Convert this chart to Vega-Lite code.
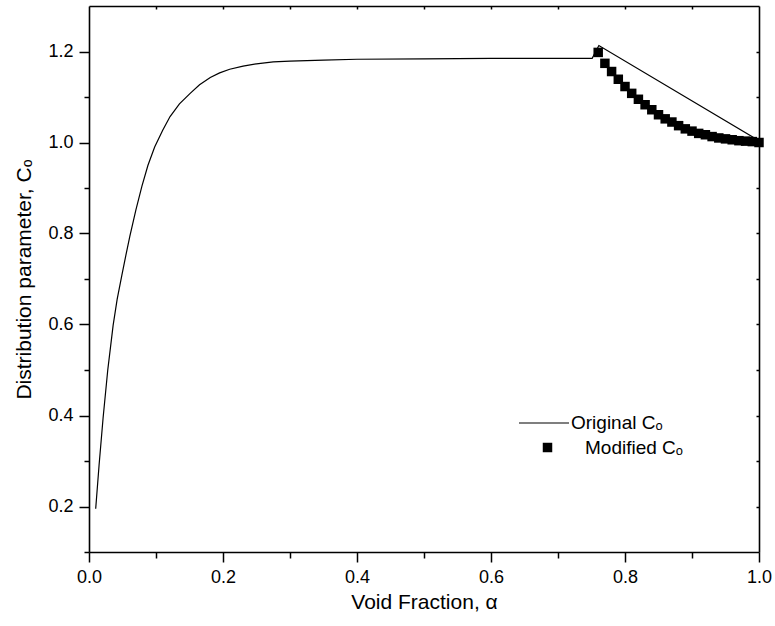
{
  "$schema": "https://vega.github.io/schema/vega-lite/v6.json",
  "width": 670,
  "height": 546,
  "autosize": {"type": "none"},
  "padding": {"left": 89, "top": 6, "right": 16, "bottom": 74},
  "background": "white",
  "config": {
    "view": {"stroke": null},
    "font": "Liberation Sans",
    "axis": {
      "labelFont": "Liberation Sans",
      "titleFont": "Liberation Sans",
      "labelFontSize": 18,
      "titleFontSize": 21,
      "titleFontWeight": "normal",
      "labelColor": "black",
      "titleColor": "black",
      "domainColor": "black",
      "tickColor": "black",
      "domainWidth": 1.6,
      "tickWidth": 1.5,
      "grid": false
    },
    "legend": {
      "labelFont": "Liberation Sans",
      "labelFontSize": 19,
      "labelColor": "black",
      "labelLimit": 300,
      "padding": 0
    }
  },
  "data": {
    "values": [
      {"s": "Original Cₒ", "a": 0.010, "c": 0.195},
      {"s": "Original Cₒ", "a": 0.015, "c": 0.290},
      {"s": "Original Cₒ", "a": 0.021, "c": 0.394},
      {"s": "Original Cₒ", "a": 0.028, "c": 0.500},
      {"s": "Original Cₒ", "a": 0.036, "c": 0.598},
      {"s": "Original Cₒ", "a": 0.042, "c": 0.655},
      {"s": "Original Cₒ", "a": 0.049, "c": 0.708},
      {"s": "Original Cₒ", "a": 0.055, "c": 0.752},
      {"s": "Original Cₒ", "a": 0.061, "c": 0.794},
      {"s": "Original Cₒ", "a": 0.070, "c": 0.852},
      {"s": "Original Cₒ", "a": 0.079, "c": 0.904},
      {"s": "Original Cₒ", "a": 0.088, "c": 0.950},
      {"s": "Original Cₒ", "a": 0.098, "c": 0.990},
      {"s": "Original Cₒ", "a": 0.110, "c": 1.027},
      {"s": "Original Cₒ", "a": 0.121, "c": 1.057},
      {"s": "Original Cₒ", "a": 0.135, "c": 1.085},
      {"s": "Original Cₒ", "a": 0.151, "c": 1.108},
      {"s": "Original Cₒ", "a": 0.165, "c": 1.127},
      {"s": "Original Cₒ", "a": 0.181, "c": 1.143},
      {"s": "Original Cₒ", "a": 0.195, "c": 1.153},
      {"s": "Original Cₒ", "a": 0.210, "c": 1.161},
      {"s": "Original Cₒ", "a": 0.230, "c": 1.168},
      {"s": "Original Cₒ", "a": 0.250, "c": 1.173},
      {"s": "Original Cₒ", "a": 0.275, "c": 1.177},
      {"s": "Original Cₒ", "a": 0.300, "c": 1.179},
      {"s": "Original Cₒ", "a": 0.350, "c": 1.181},
      {"s": "Original Cₒ", "a": 0.400, "c": 1.183},
      {"s": "Original Cₒ", "a": 0.500, "c": 1.184},
      {"s": "Original Cₒ", "a": 0.600, "c": 1.185},
      {"s": "Original Cₒ", "a": 0.700, "c": 1.185},
      {"s": "Original Cₒ", "a": 0.751, "c": 1.185},
      {"s": "Original Cₒ", "a": 0.761, "c": 1.213},
      {"s": "Original Cₒ", "a": 1.000, "c": 1.004},
      {"s": "Modified Cₒ", "a": 0.76, "c": 1.198},
      {"s": "Modified Cₒ", "a": 0.77, "c": 1.174},
      {"s": "Modified Cₒ", "a": 0.78, "c": 1.156},
      {"s": "Modified Cₒ", "a": 0.79, "c": 1.139},
      {"s": "Modified Cₒ", "a": 0.80, "c": 1.123},
      {"s": "Modified Cₒ", "a": 0.81, "c": 1.108},
      {"s": "Modified Cₒ", "a": 0.82, "c": 1.095},
      {"s": "Modified Cₒ", "a": 0.83, "c": 1.083},
      {"s": "Modified Cₒ", "a": 0.84, "c": 1.072},
      {"s": "Modified Cₒ", "a": 0.85, "c": 1.061},
      {"s": "Modified Cₒ", "a": 0.86, "c": 1.052},
      {"s": "Modified Cₒ", "a": 0.87, "c": 1.045},
      {"s": "Modified Cₒ", "a": 0.88, "c": 1.037},
      {"s": "Modified Cₒ", "a": 0.89, "c": 1.030},
      {"s": "Modified Cₒ", "a": 0.90, "c": 1.025},
      {"s": "Modified Cₒ", "a": 0.91, "c": 1.020},
      {"s": "Modified Cₒ", "a": 0.92, "c": 1.017},
      {"s": "Modified Cₒ", "a": 0.93, "c": 1.013},
      {"s": "Modified Cₒ", "a": 0.94, "c": 1.010},
      {"s": "Modified Cₒ", "a": 0.95, "c": 1.008},
      {"s": "Modified Cₒ", "a": 0.96, "c": 1.006},
      {"s": "Modified Cₒ", "a": 0.97, "c": 1.004},
      {"s": "Modified Cₒ", "a": 0.98, "c": 1.003},
      {"s": "Modified Cₒ", "a": 0.99, "c": 1.002},
      {"s": "Modified Cₒ", "a": 1.00, "c": 1.000}
    ]
  },
  "layer": [
    {
      "transform": [{"filter": "datum.s === 'Original Cₒ'"}],
      "mark": {"type": "line", "strokeWidth": 1.2, "clip": true},
      "encoding": {
        "x": {
          "field": "a", "type": "quantitative",
          "scale": {"domain": [0, 1], "nice": false, "zero": false},
          "axis": {
            "orient": "bottom",
            "title": "Void Fraction, α",
            "values": [0, 0.1, 0.2, 0.3, 0.4, 0.5, 0.6, 0.7, 0.8, 0.9, 1.0],
            "labelExpr": "round(datum.value*10) % 2 === 0 ? format(datum.value, '.1f') : ''",
            "tickSize": {"condition": {"test": "round(datum.value*10) % 2 === 0", "value": 10}, "value": 6},
            "labelPadding": 6,
            "titlePadding": 5,
            "labelFlush": false,
            "labelOverlap": false
          }
        },
        "y": {
          "field": "c", "type": "quantitative",
          "scale": {"domain": [0.1, 1.3], "nice": false, "zero": false},
          "axis": {
            "orient": "left",
            "title": "Distribution parameter, Cₒ",
            "values": [0.1, 0.2, 0.3, 0.4, 0.5, 0.6, 0.7, 0.8, 0.9, 1.0, 1.1, 1.2],
            "labelExpr": "round(datum.value*10) % 2 === 0 ? format(datum.value, '.1f') : ''",
            "tickSize": {"condition": {"test": "round(datum.value*10) % 2 === 0", "value": 10}, "value": 5},
            "labelPadding": 6,
            "titlePadding": 13,
            "labelFlush": false,
            "labelOverlap": false
          }
        },
        "color": {
          "field": "s", "type": "nominal",
          "scale": {"domain": ["Original Cₒ"], "range": ["black"]},
          "legend": {
            "title": null,
            "orient": "none",
            "legendX": 429,
            "legendY": 391,
            "symbolType": "stroke",
            "symbolSize": 2500,
            "symbolStrokeWidth": 1.2,
            "symbolStrokeColor": "black",
            "labelOffset": 1
          }
        }
      }
    },
    {
      "transform": [{"filter": "datum.s === 'Modified Cₒ'"}],
      "mark": {"type": "point", "filled": true, "color": "black", "opacity": 1, "size": 90},
      "encoding": {
        "x": {
          "field": "a", "type": "quantitative",
          "axis": {
            "orient": "top", "title": null, "labels": false,
            "values": [0.1, 0.2, 0.3, 0.4, 0.5, 0.6, 0.7, 0.8, 0.9],
            "tickSize": -3
          }
        },
        "y": {
          "field": "c", "type": "quantitative",
          "axis": {
            "orient": "right", "title": null, "labels": false,
            "values": [0.2, 0.3, 0.4, 0.5, 0.6, 0.7, 0.8, 0.9, 1.0, 1.1, 1.2],
            "tickSize": -3
          }
        },
        "shape": {
          "field": "s", "type": "nominal",
          "scale": {"domain": ["Modified Cₒ"], "range": ["square"]},
          "legend": {
            "title": null,
            "orient": "none",
            "legendX": 449,
            "legendY": 432,
            "symbolSize": 90,
            "symbolFillColor": "black",
            "symbolStrokeWidth": 0,
            "symbolOpacity": 1,
            "labelOffset": 28
          }
        }
      }
    }
  ],
  "resolve": {"axis": {"x": "independent", "y": "independent"}}
}
